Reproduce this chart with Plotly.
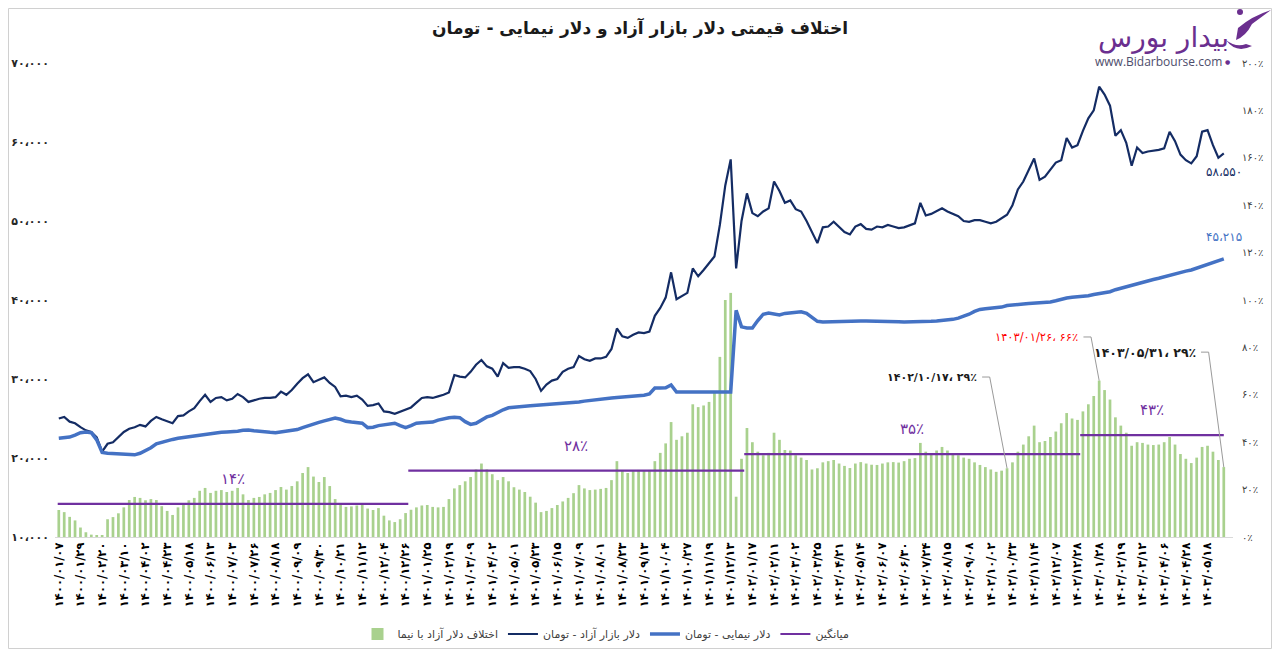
import plotly.graph_objects as go

FA_MAP = str.maketrans("0123456789,%", "۰۱۲۳۴۵۶۷۸۹،٪")


def fa(s):
    """Latin digits -> Persian digits (with Persian separators)."""
    return str(s).translate(FA_MAP)


# ---- data (one point every few trading days) ----
tick_dates = [
    "1400/01/07", "1400/01/29", "1400/02/20", "1400/03/10", "1400/04/02", "1400/04/23",
    "1400/05/18", "1400/06/13", "1400/07/03", "1400/07/26", "1400/08/18", "1400/09/09",
    "1400/09/30", "1400/10/21", "1400/11/12", "1400/12/04", "1400/12/26",
    "1401/01/25", "1401/02/19", "1401/03/09", "1401/04/02", "1401/05/01", "1401/05/23",
    "1401/06/15", "1401/07/09", "1401/08/01", "1401/08/23", "1401/09/13", "1401/10/04",
    "1401/10/27", "1401/11/19", "1401/12/13",
    "1402/01/17", "1402/02/11", "1402/03/02", "1402/03/25", "1402/04/21", "1402/05/14",
    "1402/06/07", "1402/06/30", "1402/07/24", "1402/08/15", "1402/09/08", "1402/10/02",
    "1402/10/23", "1402/11/14", "1402/12/07", "1402/12/28",
    "1403/01/28", "1403/02/19", "1403/03/12", "1403/04/06", "1403/04/28", "1403/05/18",
]
POINTS_PER_TICK = 4

free_rate = [
    25000, 25200, 24600, 24400, 23900, 23500, 23300, 22600, 20800, 21800,
    22000, 22600, 23300, 23700, 23900, 24200, 24000, 24700, 25200, 24900,
    24600, 24400, 25300, 25400, 25900, 26300, 27200, 28000, 27100, 27600,
    27700, 27300, 27500, 28100, 27700, 27100, 27300, 27500, 27600, 27600,
    27700, 28400, 28000, 28600, 29400, 30100, 30600, 29600, 29900, 30200,
    29500, 29000, 27800, 27900, 27700, 27900, 27400, 26600, 26700, 26900,
    25900, 25800, 25600, 25900, 26100, 26400, 27000, 27600, 27700, 27600,
    27800, 28000, 28300, 30500, 30300, 30200, 30900, 31800, 32400, 31600,
    31300, 30300, 32000, 31400, 31500, 31500, 31300, 31000, 30000, 28500,
    29300, 29800, 30000, 30900, 31300, 31500, 32900, 32500, 32300, 32600,
    32600, 32800, 33800, 36400, 35400, 35200, 35600, 35900, 35800, 36000,
    38000, 39000, 40300, 43500, 40100, 40500, 40900, 44000, 43000, 43800,
    44700, 45500, 49500, 54500, 57800, 44000, 50000, 53500, 51000, 50600,
    51200, 51600, 55000, 53800, 52300, 52600, 51500, 51200, 50000, 48500,
    47200, 49200, 49300, 49900, 49300, 48600, 48300, 49300, 49600, 49000,
    48900, 49300, 49200, 49500, 49300, 49100, 49200, 49500, 49700, 52300,
    50700, 50900, 51300, 51600, 51200, 50900, 50600, 50000, 49900, 50100,
    50100, 49900, 49700, 49900, 50300, 50800, 52000, 54000, 55000, 56500,
    57900, 55200, 55600, 56500, 57400, 57700, 60500, 59300, 59600, 61400,
    63000, 64000, 67000, 66000, 64600, 60800, 61500, 59900, 57000, 59300,
    58600, 58800, 58900, 59000, 59200, 61300, 60100, 58400, 57700, 57300,
    58200, 61300, 61500, 59600, 58000, 58550,
]

nima_rate = [
    22500, 22600, 22650, 22900, 23200, 23300, 23200, 22300, 20700, 20600,
    20550, 20500, 20450, 20400, 20400, 20600, 20900, 21300, 21800, 22000,
    22250, 22350, 22500, 22600, 22650, 22800, 22950, 23050, 23150, 23200,
    23250, 23300, 23300, 23400, 23500, 23550, 23450, 23350, 23300, 23250,
    23200, 23300, 23450, 23500, 23600, 23850, 24100, 24350, 24500, 24700,
    24900, 25050, 24900, 24650, 24550, 24500, 24400, 23850, 23900, 24100,
    24200, 24350, 24400, 24100, 23850, 24100, 24400, 24450, 24500, 24550,
    24800, 25000, 25100, 25150, 25100, 24600, 24250, 24400, 24800, 25200,
    25400, 25800, 26100, 26350, 26450, 26500, 26550, 26600, 26650, 26700,
    26720, 26800, 26900, 26950, 27000, 27050, 27100, 27200, 27300, 27400,
    27450, 27500, 27600, 27650, 27700, 27750, 27800, 27900, 27950, 28100,
    28850, 28850, 28900, 29250, 28360, 28360, 28360, 28360, 28360, 28360,
    28360, 28360, 28360, 28360, 28360, 38700, 36600, 36460, 36460, 37400,
    38200, 38350, 38200, 38100, 38300, 38350, 38400, 38500, 38300, 37850,
    37300, 37220, 37250, 37250, 37250, 37300, 37300, 37300, 37350, 37350,
    37350, 37300, 37300, 37250, 37250, 37250, 37200, 37200, 37250, 37250,
    37300, 37300, 37350, 37400, 37450, 37550, 37700, 37900, 38200, 38550,
    38800, 38900, 38950, 39000, 39100, 39300, 39400, 39450, 39500, 39550,
    39600, 39600, 39650, 39750, 39900, 40100, 40250, 40350, 40400, 40450,
    40550, 40700, 40800, 40900, 41050, 41300, 41500, 41650, 41800, 42000,
    42200, 42400, 42600, 42750, 42950, 43150, 43350, 43500, 43650, 43800,
    44050, 44300, 44500, 44750, 45000, 45215,
]

gap_pct = [
    11.4, 10.5, 8.5, 7, 4, 2, 1, 0.8, 0.6, 7.5,
    8.4, 10, 12.5, 15.6, 16.9, 16.5, 15.5, 16, 15.6, 13,
    11, 9.3, 12.5, 14.3, 15.5, 16.5, 19.5, 20.7, 18.6, 19.5,
    19.8, 19, 19.5, 20.7, 18, 15.6, 16.5, 16.9, 18, 18.6,
    19.8, 21.1, 20, 21.5, 23.5, 27, 29.5, 25.5, 23.2, 25.3,
    21.5, 16, 13.5, 12.7, 12.9, 13.3, 13.5, 12, 11.4, 12.2,
    9, 7, 6.3, 7.5, 10.1, 11.5, 12.5, 13.3, 13.5, 12.7,
    12.5, 12.7, 16, 20.5, 21.9, 23.5, 25.3, 28.5, 31, 28.5,
    26.5, 24, 25.3, 23.5, 21, 20, 19, 17, 14.5, 10.5,
    11, 12.2, 13.5, 15, 16.5, 18.5, 21.9, 20.5, 19.8, 20,
    20.3, 20.7, 24, 32, 28, 27, 27.8, 28.3, 28, 28.3,
    32, 35.5, 39.5, 48.5, 41, 42.5, 44, 56, 54.8, 55.5,
    57, 61, 76, 100, 103, 17, 33, 46, 40, 36,
    34.5, 35.5, 44, 41, 36.7, 36.5, 34.5, 33.5, 32.5, 28.5,
    29, 31.5, 32, 32.5, 31, 30, 29.1, 31, 31.6, 31,
    30.5, 30.4, 31, 31.5, 31.6, 31.4, 32, 33, 33.3, 39.7,
    36, 35.4, 36.5, 38, 36.5, 35.4, 34.5, 33.5, 33, 31.5,
    30.4, 29.5, 28.5, 27.5, 28, 29, 31.5, 36, 39, 42.5,
    47, 40, 40.5, 42.2, 44.5, 48, 52.3, 50, 49.4, 53,
    56, 59.5, 66, 62, 58, 50.5, 47, 44, 38.5, 40,
    39.7, 39, 38.8, 39, 40, 42.2, 39, 35, 33, 31.2,
    33.5, 38, 38.5, 36, 32.5, 29.5,
]

# yearly averages of the gap and where each year starts/ends (point index)
avg_pct = [14, 28, 35, 43]
year_bounds = [-0.2, 64.5, 126.5, 188.5, 215]

# highlighted points: (point index, date, gap %)
callouts = [
    (175, "1402/10/17", 29),
    (192, "1403/01/26", 66),
    (215, "1403/05/31", 29),
]

# ---- layout (screen pixels; the page body adds an 8px margin) ----
PAD = 8
W, H = 1280 - 2 * PAD, 657 - 2 * PAD
PL, PR, PT, PB = 55, 1233, 63, 537          # plot box on screen
ML, MR, MT, MB = PL - PAD, PAD + W - PR, PT - PAD, PAD + H - PB

FREE_C = "#142c64"
NIMA_C = "#4472c4"
GAP_C = "#a9d18e"
AVG_C = "#7030a0"
LOGO_C = "#6b2f8f"
FONT = "DejaVu Sans, Noto Sans, sans-serif"


def paper(px, py):
    return (px - PL) / (PR - PL), (PB - py) / (PB - PT)


idx = list(range(len(free_rate)))

fig = go.Figure()

fig.add_trace(go.Bar(x=idx, y=[v / 100 for v in gap_pct], name="اختلاف دلار آزاد با نیما",
                     marker=dict(color=GAP_C, line=dict(width=0)), yaxis="y",
                     legendrank=1))

ax, ay = [], []
for v, s, e in zip(avg_pct, year_bounds[:-1], year_bounds[1:]):
    ax += [s, e, None]
    ay += [v / 100, v / 100, None]
fig.add_trace(go.Scatter(x=ax, y=ay, mode="lines", name="میانگین",
                         line=dict(color=AVG_C, width=2.2), yaxis="y", legendrank=4))

fig.add_trace(go.Scatter(x=idx, y=free_rate, mode="lines", name="دلار بازار آزاد - تومان",
                         line=dict(color=FREE_C, width=2.2), yaxis="y2", legendrank=2))
fig.add_trace(go.Scatter(x=idx, y=nima_rate, mode="lines", name="دلار نیمایی - تومان",
                         line=dict(color=NIMA_C, width=3.5), yaxis="y2", legendrank=3))

annotations = []
shapes = []

# average labels above each yearly line
for v, s, e in zip(avg_pct, year_bounds[:-1], year_bounds[1:]):
    annotations.append(dict(x=(s + e) / 2, y=v / 100, xref="x", yref="y", yshift=25,
                            text=fa(f"{v}%"), showarrow=False,
                            font=dict(size=15, color=AVG_C)))

# callouts with leader lines
label_pos = [(169.8, 0.675, 11, "#1a1a1a", "bold"),
             (188.5, 0.844, 11.5, "#ff0000", "normal"),
             (210.2, 0.78, 12.5, "#1a1a1a", "bold")]
for (i, d, p), (lx, ly, fs, col, wt) in zip(callouts, label_pos):
    annotations.append(dict(x=lx, y=ly, xref="x", yref="y", xanchor="right", yanchor="middle",
                            text=fa(f"{d}، {p}%"), showarrow=False,
                            font=dict(size=fs, color=col, weight=wt)))
    shapes.append(dict(type="path", xref="x", yref="y",
                       path=f"M {lx + 0.6},{ly} L {lx + 2.0},{ly} L {i},{gap_pct[i] / 100}",
                       line=dict(color="#9a9a9a", width=1)))

# last values
annotations.append(dict(x=idx[-1], y=free_rate[-1], xref="x", yref="y2", yshift=-19,
                        text=fa(f"{free_rate[-1]:,}"), showarrow=False,
                        font=dict(size=12, color=FREE_C)))
annotations.append(dict(x=idx[-1], y=nima_rate[-1], xref="x", yref="y2", yshift=22,
                        text=fa(f"{nima_rate[-1]:,}"), showarrow=False,
                        font=dict(size=12, color=NIMA_C)))

# logo
for txt, (px, py), fnt in [
    ("بیدار بورس", (1163, 37), dict(size=28, color=LOGO_C)),
    ("www.Bidarbourse.com", (1158, 61), dict(size=12, color="#4d4d6b", family="Open Sans, sans-serif")),
    ("●", (1227, 61), dict(size=6, color=LOGO_C)),
]:
    x, y = paper(px, py)
    annotations.append(dict(x=x, y=y, xref="paper", yref="paper", xanchor="center", yanchor="middle",
                            text=txt, showarrow=False, font=fnt))

p = [paper(*pt) for pt in [(1271, 10), (1252, 16), (1238, 28), (1236, 40), (1246, 36), (1252, 24)]]
shapes.append(dict(type="path", xref="paper", yref="paper", fillcolor=LOGO_C, line=dict(width=0),
                   path=f"M {p[0][0]},{p[0][1]} Q {p[1][0]},{p[1][1]} {p[2][0]},{p[2][1]} "
                        f"L {p[3][0]},{p[3][1]} Q {p[4][0]},{p[4][1]} {p[5][0]},{p[5][1]} Z"))
q = [paper(*pt) for pt in [(1226, 40), (1236, 54), (1252, 46), (1246, 44), (1236, 48)]]
shapes.append(dict(type="path", xref="paper", yref="paper", fillcolor=LOGO_C, line=dict(width=0),
                   path=f"M {q[0][0]},{q[0][1]} Q {q[1][0]},{q[1][1]} {q[2][0]},{q[2][1]} "
                        f"L {q[3][0]},{q[3][1]} Q {q[4][0]},{q[4][1]} {q[0][0]},{q[0][1]} Z"))
c0, c1 = paper(1237, 15), paper(1243, 9)
shapes.append(dict(type="circle", xref="paper", yref="paper", x0=c0[0], y0=c0[1], x1=c1[0], y1=c1[1],
                   fillcolor=LOGO_C, line=dict(width=0)))

# outer frame (at the figure edge)
b0, b1 = paper(PAD + 0.5, PAD + H - 0.5), paper(PAD + W - 0.5, PAD + 0.5)
shapes.append(dict(type="rect", xref="paper", yref="paper", x0=b0[0], y0=b0[1], x1=b1[0], y1=b1[1],
                   line=dict(color="#d0d0d0", width=1)))

fig.update_layout(
    width=W, height=H,
    margin=dict(l=ML, r=MR, t=MT, b=MB, autoexpand=False),
    paper_bgcolor="white", plot_bgcolor="white",
    font=dict(family=FONT, color="#262626"),
    title=dict(text="<b>اختلاف قیمتی دلار بازار آزاد و دلار نیمایی - تومان</b>",
               x=(640 - PAD) / W, xref="container", xanchor="center",
               y=1 - (28 - PAD) / H, yref="container", yanchor="middle",
               font=dict(size=17, color="#1a1a1a")),
    bargap=0.5,
    showlegend=True,
    legend=dict(orientation="h", xref="container", yref="container",
                x=(606 - PAD) / W, y=1 - (634 - PAD) / H, xanchor="center", yanchor="middle",
                font=dict(size=11, color="#404040"), bgcolor="rgba(0,0,0,0)"),
    xaxis=dict(range=[-0.7, len(idx) + 0.7], showgrid=False, zeroline=False,
               tickvals=[k * POINTS_PER_TICK for k in range(len(tick_dates))],
               ticktext=[fa(d) for d in tick_dates], tickangle=-90,
               tickfont=dict(size=11.5, color="#000000", weight="bold"),
               showline=True, linecolor="#d9d9d9", linewidth=1, ticks=""),
    yaxis=dict(range=[0, 2], side="right", showgrid=False, zeroline=False,
               tickvals=[k / 10 for k in range(0, 21, 2)],
               ticktext=[fa(f"{k * 10}%") for k in range(0, 21, 2)],
               ticklabelstandoff=8,
               tickfont=dict(size=10, color="#404040")),
    yaxis2=dict(range=[10000, 70000], side="left", overlaying="y", showgrid=False, zeroline=False,
                tickvals=list(range(10000, 70001, 10000)),
                ticktext=[fa(f"{v:,}") for v in range(10000, 70001, 10000)],
                ticklabelstandoff=5,
                tickfont=dict(size=11, color="#262626", weight="bold")),
    annotations=annotations,
    shapes=shapes,
)

fig.write_html("out.html")
